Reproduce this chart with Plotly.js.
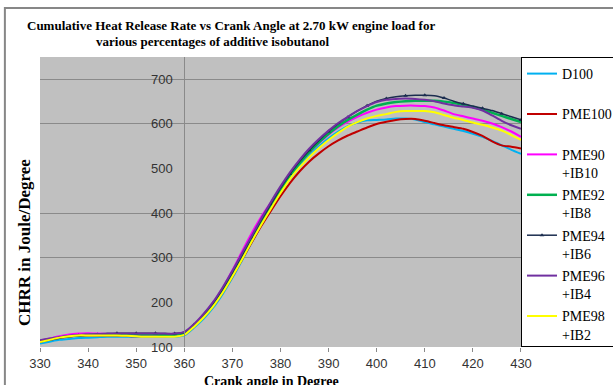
<!DOCTYPE html>
<html>
<head>
<meta charset="utf-8">
<script src="https://cdn.plot.ly/plotly-3.0.1.min.js"></script>
<style>html,body{margin:0;padding:0;background:#fff;}#chart{width:613px;height:385px;}</style>
</head>
<body>
<div id="chart"></div>
<script>
const crankAngle = [330,332,334,336,338,340,342,344,346,348,350,352,354,356,358,360,
  362,364,366,368,370,372,374,376,378,380,382,384,386,388,390,392,
  394,396,398,400,402,404,406,408,410,412,414,416,418,420,422,424,426,428,430];

const seriesNames = ["D100","PME100","PME90<br>+IB10","PME92<br>+IB8","PME94<br>+IB6","PME96<br>+IB4","PME98<br>+IB2"];

const d100 = [108,112,116,118,120,121,122,123,123,123,123,123,123,123,123,126,
  143,163,188,219,255,294,334,373,410,446,478,505,529,550,568,583,
  595,603,608,609,610,612,612,610,604,599,594,589,584,578,571,562,552,542,533];
const pme100 = [112,116,120,123,125,126,126,126,126,125,124,124,124,124,125,128,
  146,167,192,223,258,296,334,371,405,438,468,494,516,534,550,563,
  574,583,592,600,605,609,611,611,607,602,597,593,589,582,573,561,552,549,545];
const pme90ib10 = [114,119,124,128,130,131,130,129,128,127,126,126,126,126,126,130,
  150,173,200,233,272,314,355,392,424,457,486,512,536,557,576,592,
  605,616,625,632,637,640,641,641,640,637,630,622,617,612,607,601,593,583,571];
const pme92ib8 = [113,117,121,124,126,127,128,128,128,128,128,128,128,127,127,131,
  148,170,196,228,265,304,343,381,417,452,484,512,537,559,578,595,
  609,621,632,641,646,649,651,652,652,652,650,647,643,638,632,625,618,611,604];
const pme94ib6 = [113,117,121,124,126,127,128,130,131,131,131,131,131,130,130,133,
  150,172,198,230,267,305,345,384,420,456,488,516,541,563,583,600,
  615,629,641,651,657,661,663,664,664,663,658,651,645,640,635,630,623,616,609];
const pme96ib4 = [115,119,122,125,127,128,129,130,130,130,130,130,130,130,130,134,
  151,174,201,234,271,310,349,388,425,460,492,520,545,566,585,602,
  616,629,640,649,654,656,657,656,654,651,646,642,639,636,630,619,607,597,589];
const pme98ib2 = [111,116,121,124,126,126,126,126,126,125,124,123,123,123,123,127,
  145,166,191,222,258,296,336,374,410,445,477,503,526,546,564,580,
  594,604,612,618,622,627,629,629,629,626,620,614,609,603,598,592,585,575,564];

const xTicks = [330,340,350,360,370,380,390,400,410,420,430];
const yTicks = [100,200,300,400,500,600,700];
const yGridVals = [300,400,600,700];

const allSeries = [d100,pme100,pme90ib10,pme92ib8,pme94ib6,pme96ib4,pme98ib2];
const colors = ["#00B0F0","#C00000","#FF00FF","#00B050","#1B2D4F","#7030A0","#FFFF00"];
const widths = [2,2,2,2.5,1.5,2,2];

const traces = allSeries.map((ys,i)=>{
  const t = {
    x: crankAngle, y: ys, name: i<2 ? seriesNames[i]+"<br> " : seriesNames[i],
    type: "scatter", mode: "lines", legendgroup: "g"+i,
    line: {color: colors[i], width: widths[i], shape: "spline", smoothing: 0.6},
    xaxis: "x", yaxis: "y"
  };
  if (i===4) {
    t.mode = "lines+markers";
    t.marker = {symbol: "triangle-up", size: 4, color: colors[i], maxdisplayed: 27};
  }
  return t;
});
traces.push({x:[crankAngle[0]], y:[yTicks[0]], yaxis:"y2", xaxis:"x", mode:"markers",
  marker:{opacity:0}, showlegend:false, hoverinfo:"skip"});

const serif = "'Liberation Serif','Times New Roman',serif";
const sans = "'Liberation Sans',Arial,sans-serif";

const layout = {
  width: 613, height: 385,
  margin: {l:40, r:92, t:57, b:38},
  paper_bgcolor: "#ffffff",
  plot_bgcolor: "#C0C0C0",
  showlegend: true,
  xaxis: {
    range:[330,430], tickvals: xTicks, ticks:"outside", ticklen:4, tickcolor:"#8a8a8a",
    showgrid:false, zeroline:false, showline:false, automargin:false,
    tickfont:{family:sans, size:13, color:"#333333"}
  },
  yaxis: {
    range:[100,750], tickvals: yTicks, anchor:"free", position:0.3, side:"left",
    showgrid:false, zeroline:false, showline:true, linecolor:"#8a8a8a", linewidth:1,
    ticks:"", ticklabelstandoff:9, automargin:false,
    tickfont:{family:sans, size:13, color:"#333333"}
  },
  yaxis2: {
    range:[100,750], overlaying:"y", tickvals: yGridVals, showticklabels:false,
    showgrid:true, gridcolor:"#8a8a8a", gridwidth:1, zeroline:false, showline:false, ticks:""
  },
  legend: {
    xref:"container", x:0.8499, xanchor:"left", yref:"paper", y:1, yanchor:"top",
    bgcolor:"#ffffff", bordercolor:"#000000", borderwidth:1,
    font:{family:serif, size:14, color:"#000000"},
    valign:"top", itemwidth:30, traceorder:"grouped", tracegroupgap:1
  },
  annotations: [
    {text:"<b>Cumulative Heat Release Rate vs Crank Angle at 2.70 kW engine load for</b>",
     xref:"paper", yref:"paper", x:0.397, y:1.110, xanchor:"center", yanchor:"middle",
     showarrow:false, font:{family:serif, size:13, color:"#000"}},
    {text:"<b>various percentages of additive isobutanol</b>",
     xref:"paper", yref:"paper", x:0.358, y:1.055, xanchor:"center", yanchor:"middle",
     showarrow:false, font:{family:serif, size:13, color:"#000"}},
    {text:"<b>CHRR in Joule/Degree</b>", textangle:-90,
     xref:"paper", yref:"paper", x:-0.031, y:0.359, xanchor:"center", yanchor:"middle",
     showarrow:false, font:{family:serif, size:17, color:"#000"}},
    {text:"<b>Crank angle in Degree</b>",
     xref:"paper", yref:"paper", x:0.482, y:-0.118, xanchor:"center", yanchor:"middle",
     showarrow:false, font:{family:serif, size:14, color:"#000"}}
  ],
  shapes: [
    {type:"rect", xref:"paper", yref:"paper", x0:-0.073, x1:1.25, y0:-0.3, y1:1.169,
     line:{color:"#878787", width:2}, fillcolor:"rgba(0,0,0,0)", layer:"below"}
  ]
};

Plotly.newPlot("chart", traces, layout, {displayModeBar:false, staticPlot:true});
</script>
</body>
</html>
